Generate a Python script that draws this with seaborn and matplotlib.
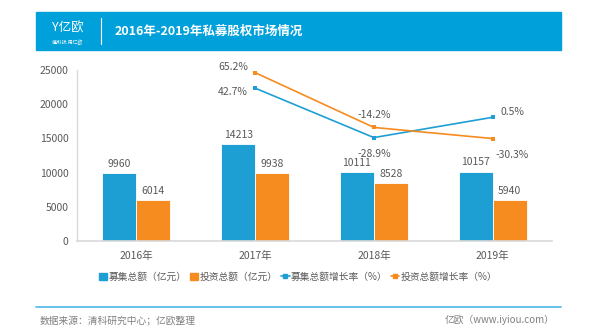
import matplotlib
matplotlib.use("Agg")
import matplotlib.pyplot as plt
import matplotlib.patches as mpatches
from matplotlib.lines import Line2D
import seaborn as sns
import pandas as pd
import numpy as np

# ---- data ----
years = ["2016年", "2017年", "2018年", "2019年"]
raise_total = [9960, 14213, 10111, 10157]      # 募集总额（亿元）
invest_total = [6014, 9938, 8528, 5940]        # 投资总额（亿元）
raise_growth_years = ["2017年", "2018年", "2019年"]
raise_growth = [42.7, -28.9, 0.5]              # 募集总额增长率（%）
invest_growth = [65.2, -14.2, -30.3]           # 投资总额增长率（%）
series_names = ["募集总额（亿元）", "投资总额（亿元）", "募集总额增长率（%）", "投资总额增长率（%）"]
title = "2016年-2019年私募股权市场情况"
source = "数据来源：清科研究中心；亿欧整理"
credit = "亿欧（www.iyiou.com）"

BLUE = "#1E9FD4"
ORANGE = "#F68B1F"
GRAY = "#595959"

sns.set_theme(style="white")
plt.rcParams['font.family'] = ['Noto Sans CJK SC', 'DejaVu Sans']

fig = plt.figure(figsize=(6.0, 3.34), dpi=100)
ax = fig.add_axes([77/600, 1-241/334, (552-77)/600, (241-70)/334])

df = pd.DataFrame({
    "year": years * 2,
    "value": raise_total + invest_total,
    "series": [series_names[0]] * len(years) + [series_names[1]] * len(years),
})
sns.barplot(data=df, x="year", y="value", hue="series", palette=[BLUE, ORANGE],
            saturation=1, width=0.572, ax=ax, edgecolor="white", linewidth=0.6,
            legend=False)
for cont in ax.containers:
    ax.bar_label(cont, fmt="%d", padding=3, fontsize=7.5, color=GRAY)

ax.set_ylim(0, 25000)
ax.set_xlim(-0.5, 3.5)
ax.set_yticks([0, 5000, 10000, 15000, 20000, 25000])
ax.set_xlabel("")
ax.set_ylabel("")
ax.tick_params(axis="both", length=0, labelsize=7.5, labelcolor=GRAY)
ax.tick_params(axis="x", pad=7)
ax.tick_params(axis="y", pad=6)
for s in ["top", "right"]:
    ax.spines[s].set_visible(False)
ax.spines["left"].set_color("#D9D9D9")
ax.spines["bottom"].set_color("#D9D9D9")
ax.spines["left"].set_linewidth(1.0)
ax.spines["bottom"].set_linewidth(1.2)

# ---- growth lines on secondary axis ----
ax2 = ax.twinx()
pos = [years.index(y) for y in raise_growth_years]
ldf = pd.DataFrame({
    "x": pos * 2,
    "v": raise_growth + invest_growth,
    "s": [series_names[2]] * len(pos) + [series_names[3]] * len(pos),
})
sns.lineplot(data=ldf, x="x", y="v", hue="s", palette=[BLUE, ORANGE], marker="s",
             markersize=3.5, markeredgewidth=0, linewidth=1.2, ax=ax2, legend=False)
ax2.set_ylim(-178.7, 69)
ax2.set_xlim(-0.5, 3.5)
ax2.axis("off")

raise_offsets = [(-16, -3), (0, -12), (14, 4)]
invest_offsets = [(-16, 4), (0, 9), (14, -12)]
for x, v, off in zip(pos, raise_growth, raise_offsets):
    ax2.annotate(f"{v}%", (x, v), xytext=off, textcoords="offset points",
                 ha="center", va="center", fontsize=7.5, color=GRAY)
for x, v, off in zip(pos, invest_growth, invest_offsets):
    ax2.annotate(f"{v}%", (x, v), xytext=off, textcoords="offset points",
                 ha="center", va="center", fontsize=7.5, color=GRAY)

# ---- legend ----
handles = [
    mpatches.Patch(color=BLUE),
    mpatches.Patch(color=ORANGE),
    Line2D([], [], color=BLUE, marker="s", markersize=3, lw=1.2),
    Line2D([], [], color=ORANGE, marker="s", markersize=3, lw=1.2),
]
fig.legend(handles, series_names, loc="center", bbox_to_anchor=(298/600, 1-277/334),
           ncol=4, frameon=False, fontsize=7, handlelength=0.9, handleheight=0.8,
           handletextpad=0.15, columnspacing=0.3, labelcolor=GRAY)

# ---- header band ----
fig.patches.append(mpatches.Rectangle((36/600, 1-50/334), (561-36)/600, 38/334,
                                      transform=fig.transFigure, color="#00A0DA", zorder=0))
fig.text(52/600, 1-28/334, "Y亿欧", color="white", fontsize=9, va="center", ha="left")
fig.text(52/600, 1-42/334, "懂科技 用亿欧", color="white", fontsize=3.5, va="center", ha="left")
fig.add_artist(Line2D([101/600, 101/600], [1-44/334, 1-18/334], color="white", lw=0.8,
                      transform=fig.transFigure))
fig.text(115/600, 1-31/334, title, color="white", fontsize=9, fontweight="bold",
         va="center", ha="left")

# ---- footer ----
fig.add_artist(Line2D([36/600, 561/600], [1-307/334, 1-307/334], color="#4DB8E8", lw=1.2,
                      transform=fig.transFigure))
fig.text(40/600, 1-320/334, source, color="#7F7F7F", fontsize=7, va="center", ha="left")
fig.text(555/600, 1-320/334, credit, color="#7F7F7F", fontsize=7, va="center", ha="right")

fig.savefig("out.png", dpi=100, facecolor="white")
